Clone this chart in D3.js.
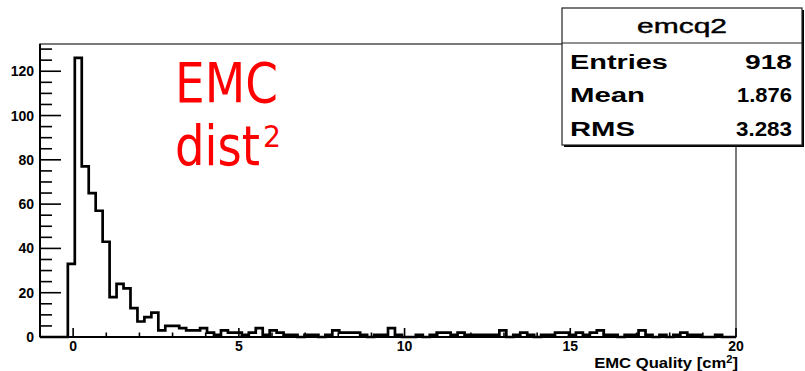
<!DOCTYPE html>
<html>
<head>
<meta charset="utf-8">
<script src="https://cdn.jsdelivr.net/npm/d3@7"></script>
<style>
  html, body { margin: 0; padding: 0; background: #fff; }
  svg { display: block; }
</style>
</head>
<body>
<svg id="chart" width="805" height="371"></svg>
<script>
// Histogram "emcq2": 100 bins from -1 to 20
const histName = "emcq2";
const binRange = [-1, 20];
const binCount = 100;
const counts = [
  0, 0, 0, 0, 33, 126, 77, 65, 57, 43,
  18, 24, 22, 13, 7, 9, 11, 3, 5, 5,
  4, 3, 3, 4, 2, 1, 3, 2, 2, 1,
  2, 4, 1, 3, 2, 1, 1, 0, 1, 1,
  0, 1, 3, 2, 2, 2, 1, 0, 1, 1,
  4, 1, 0, 0, 1, 0, 1, 2, 2, 1,
  2, 1, 1, 1, 1, 1, 3, 0, 1, 2,
  1, 0, 1, 1, 2, 2, 1, 2, 1, 2,
  3, 1, 1, 0, 1, 1, 3, 1, 0, 1,
  0, 1, 2, 1, 1, 0, 0, 1, 0, 0
];
const statLabels = ["Entries", "Mean", "RMS"];
const statValues = ["918", "1.876", "3.283"];
const xMajorTicks = [0, 5, 10, 15, 20];
const xMinorTicks = d3.range(0, 21, 1);
const yMajorTicks = [0, 20, 40, 60, 80, 100, 120];
const yMinorTicks = d3.range(0, 131, 5);
const xTitle = "EMC Quality [cm";
const noteLines = ["EMC", "dist"];

const svg = d3.select("#chart");
const L = 40, R = 736, T = 44, B = 337;
const yMax = d3.max(counts) * 1.05;

const x = d3.scaleLinear().domain(binRange).range([L, R]);
const y = d3.scaleLinear().domain([0, yMax]).range([B, T]);
const bw = (binRange[1] - binRange[0]) / binCount;

svg.append("rect").attr("width", 805).attr("height", 371).attr("fill", "#fff");

// frame
svg.append("rect")
  .attr("x", L).attr("y", T).attr("width", R - L).attr("height", B - T)
  .attr("fill", "none").attr("stroke", "#333").attr("stroke-width", 1.3);

// histogram outline
let d = `M${x(binRange[0])},${y(0)}`;
counts.forEach((c, i) => {
  const x0 = x(binRange[0] + i * bw), x1 = x(binRange[0] + (i + 1) * bw);
  d += `L${x0},${y(c)}L${x1},${y(c)}`;
});
d += `L${x(binRange[1])},${y(0)}`;
svg.append("path").attr("d", d)
  .attr("fill", "none").attr("stroke", "#000")
  .attr("stroke-width", 2.7).attr("stroke-linejoin", "miter");

// axes lines
svg.append("line").attr("x1", L).attr("x2", L).attr("y1", T).attr("y2", B)
  .attr("stroke", "#000").attr("stroke-width", 2);
svg.append("line").attr("x1", L).attr("x2", R).attr("y1", B).attr("y2", B)
  .attr("stroke", "#000").attr("stroke-width", 2.2);

// y ticks (inward)
svg.append("g").selectAll("line").data(yMinorTicks).join("line")
  .attr("x1", L).attr("x2", d => L + (yMajorTicks.includes(d) ? 21 : 12))
  .attr("y1", d => y(d)).attr("y2", d => y(d))
  .attr("stroke", "#000").attr("stroke-width", 1.6);
svg.append("g").selectAll("text").data(yMajorTicks).join("text")
  .attr("x", 34).attr("y", d => y(d)).attr("dy", "0.36em")
  .attr("text-anchor", "end")
  .attr("font-family", "Liberation Sans, Arial, sans-serif")
  .attr("font-weight", "bold").attr("font-size", 14).attr("fill", "#000")
  .text(d => d);

// x ticks (upward)
svg.append("g").selectAll("line").data(xMinorTicks).join("line")
  .attr("x1", d => x(d)).attr("x2", d => x(d))
  .attr("y1", B).attr("y2", d => B - (xMajorTicks.includes(d) ? 9 : 4.5))
  .attr("stroke", "#000").attr("stroke-width", 1.6);
svg.append("g").selectAll("text").data(xMajorTicks).join("text")
  .attr("x", d => x(d)).attr("y", 351)
  .attr("text-anchor", "middle")
  .attr("font-family", "Liberation Sans, Arial, sans-serif")
  .attr("font-weight", "bold").attr("font-size", 14).attr("fill", "#000")
  .text(d => d);

// stretch a text horizontally to a given width
function fitWidth(t, w, ax, ay) {
  const len = t.node().getComputedTextLength();
  t.attr("x", 0).attr("y", 0)
   .attr("transform", `translate(${ax},${ay}) scale(${w / len},1)`);
}

// x-axis title
const xt = svg.append("text")
  .attr("text-anchor", "end")
  .attr("font-family", "Liberation Sans, Arial, sans-serif")
  .attr("font-weight", "bold").attr("font-size", 15).attr("fill", "#000");
xt.append("tspan").text(xTitle);
xt.append("tspan").attr("font-size", 10).attr("dy", -5).text("2");
xt.append("tspan").attr("dy", 5).text("]");
fitWidth(xt, 144, 738, 367.5);

// stats box
const bx = 562, by = 8, bwid = 240, bh = 137;
svg.append("rect").attr("x", bx + 2).attr("y", by + 2).attr("width", bwid).attr("height", bh)
  .attr("fill", "#000");
svg.append("rect").attr("x", bx).attr("y", by).attr("width", bwid).attr("height", bh)
  .attr("fill", "#fff").attr("stroke", "#222").attr("stroke-width", 1.2);
svg.append("line").attr("x1", bx).attr("x2", bx + bwid).attr("y1", 43).attr("y2", 43)
  .attr("stroke", "#222").attr("stroke-width", 1.2);

const title = svg.append("text").attr("text-anchor", "middle")
  .attr("font-family", "Liberation Sans, Arial, sans-serif")
  .attr("font-size", 20).attr("stroke", "#000").attr("stroke-width", 0.4)
  .attr("fill", "#000").text(histName);
fitWidth(title, 90, bx + bwid / 2, 33);

const rowY = [68.5, 102, 135.5];
const labelW = [98, 75, 65];
const valueW = [47, 55, 56];
statLabels.forEach((s, i) => {
  const t = svg.append("text").attr("text-anchor", "start")
    .attr("font-family", "Liberation Sans, Arial, sans-serif")
    .attr("font-weight", "bold").attr("font-size", 21).attr("fill", "#000").text(s);
  fitWidth(t, labelW[i], 570, rowY[i]);
  const v = svg.append("text").attr("text-anchor", "end")
    .attr("font-family", "Liberation Sans, Arial, sans-serif")
    .attr("font-weight", "bold").attr("font-size", 21).attr("fill", "#000").text(statValues[i]);
  fitWidth(v, valueW[i], 792, rowY[i]);
});

// red annotation
const n1 = svg.append("text").attr("font-family", "DejaVu Sans, sans-serif")
  .attr("font-size", 55).attr("fill", "#ff0000").text(noteLines[0]);
fitWidth(n1, 103, 175, 101.5);
const n2 = svg.append("text").attr("font-family", "DejaVu Sans, sans-serif")
  .attr("font-size", 55).attr("fill", "#ff0000").text(noteLines[1]);
fitWidth(n2, 85, 175, 165);
const n3 = svg.append("text").attr("font-family", "DejaVu Sans, sans-serif")
  .attr("font-size", 30).attr("fill", "#ff0000").text("2");
fitWidth(n3, 18, 263, 147);
</script>
</body>
</html>
